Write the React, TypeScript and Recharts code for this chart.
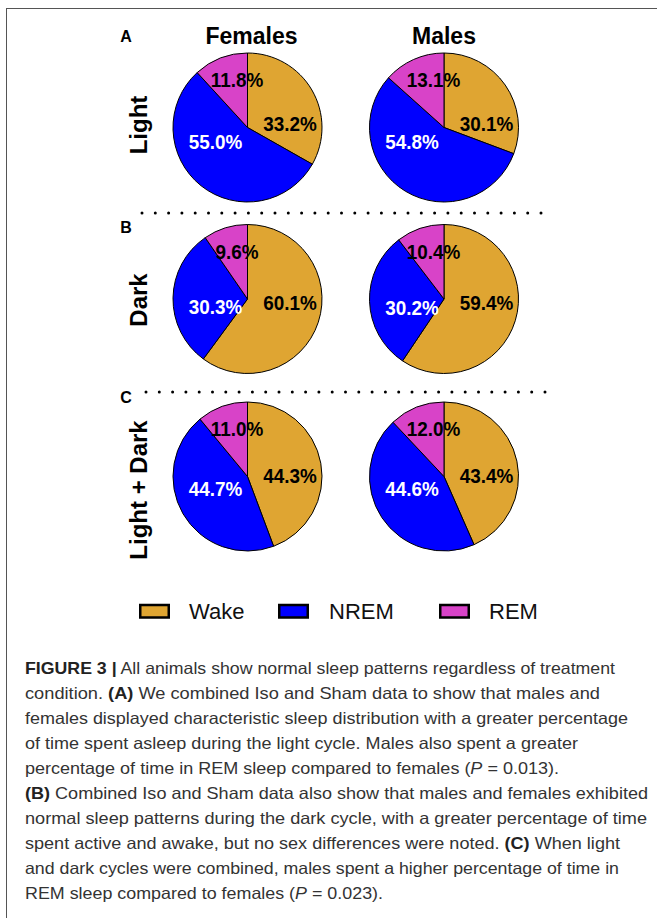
import React from "react"
import { PieChart, Pie, Cell } from "recharts"

// sleep stage shares (%), in the order Wake, NREM, REM
const stages = ["Wake", "NREM", "REM"]
const sexes = ["Females", "Males"]
const periods = ["Light", "Dark", "Light + Dark"]
const panelLetters = ["A", "B", "C"]

const femalesLight = [33.2, 55.0, 11.8]
const malesLight = [30.1, 54.8, 13.1]
const femalesDark = [60.1, 30.3, 9.6]
const malesDark = [59.4, 30.2, 10.4]
const femalesLightDark = [44.3, 44.7, 11.0]
const malesLightDark = [43.4, 44.6, 12.0]

const rows = [
  [femalesLight, malesLight],
  [femalesDark, malesDark],
  [femalesLightDark, malesLightDark],
]

const stageColors = ["#DFA532", "#0000FF", "#D843C8"]

const captionLines: { parts: [string, "b" | "i" | ""][]; width: number }[] = [
  { parts: [["FIGURE 3 |", "b"], [" All animals show normal sleep patterns regardless of treatment", ""]], width: 590 },
  { parts: [["condition. ", ""], ["(A)", "b"], [" We combined Iso and Sham data to show that males and", ""]], width: 575 },
  { parts: [["females displayed characteristic sleep distribution with a greater percentage", ""]], width: 603 },
  { parts: [["of time spent asleep during the light cycle. Males also spent a greater", ""]], width: 553 },
  { parts: [["percentage of time in REM sleep compared to females (", ""], ["P", "i"], [" = 0.013).", ""]], width: 534 },
  { parts: [["(B)", "b"], [" Combined Iso and Sham data also show that males and females exhibited", ""]], width: 623 },
  { parts: [["normal sleep patterns during the dark cycle, with a greater percentage of time", ""]], width: 622 },
  { parts: [["spent active and awake, but no sex differences were noted. ", ""], ["(C)", "b"], [" When light", ""]], width: 595 },
  { parts: [["and dark cycles were combined, males spent a higher percentage of time in", ""]], width: 594 },
  { parts: [["REM sleep compared to females (", ""], ["P", "i"], [" = 0.023).", ""]], width: 358 },
]

const FONT = "'Liberation Sans', Arial, Helvetica, sans-serif"
const PIE_R = 74.5
const colX = [247.5, 444]
const rowY = [127.5, 299, 476.5]
const rowLabelY = [125, 300, 490]
const letterY = [36, 227, 397]
const dottedY = [213, 392]

// percentage labels sit inside each slice, slightly condensed
const renderPctLabel = (props: any) => {
  const { cx, cy, midAngle, outerRadius, index, value } = props
  const dirY = -Math.sin((midAngle * Math.PI) / 180)
  let x: number
  let y: number
  if (index === 0) {
    x = cx + 0.57 * outerRadius
    y = cy + 0.12 * outerRadius * dirY + 1
  } else if (index === 1) {
    x = cx - 0.43 * outerRadius
    y = cy + 8 + 0.1 * outerRadius * dirY
  } else {
    x = cx - 0.14 * outerRadius
    y = cy - 0.64 * outerRadius
  }
  return (
    <text
      transform={`translate(${x},${y}) scale(0.9,1)`}
      textAnchor="middle"
      dominantBaseline="central"
      fill={index === 1 ? "#fff" : "#000"}
      fontFamily={FONT}
      fontWeight="bold"
      fontSize={21}
    >
      {`${Number(value).toFixed(1)}%`}
    </text>
  )
}

export default function App() {
  return (
    <div style={{ position: "relative", width: 657, height: 918, background: "#fff", overflow: "hidden" }}>
      <style>{"body{margin:0;}"}</style>
      <div
        style={{
          position: "absolute",
          left: 6,
          top: 8,
          right: -4,
          bottom: -4,
          borderTop: "1.5px solid #555",
          borderLeft: "1.5px solid #555",
        }}
      />
      <div style={{ position: "absolute", left: 0, top: 0 }}>
        <PieChart width={657} height={600} margin={{ top: 0, right: 0, bottom: 0, left: 0 }}>
          {rows.map((pair, r) =>
            pair.map((values, c) => (
              <Pie
                key={`pie-${r}-${c}`}
                data={values.map((v, i) => ({ name: stages[i], value: v }))}
                dataKey="value"
                cx={colX[c]}
                cy={rowY[r]}
                outerRadius={PIE_R}
                startAngle={90}
                endAngle={-270}
                stroke="#000"
                strokeWidth={1}
                label={renderPctLabel}
                labelLine={false}
                isAnimationActive={false}
              >
                {values.map((_, i) => (
                  <Cell key={`cell-${i}`} fill={stageColors[i]} />
                ))}
              </Pie>
            ))
          )}
        </PieChart>
      </div>
      <svg width={657} height={918} style={{ position: "absolute", left: 0, top: 0, pointerEvents: "none" }}>
        {sexes.map((s, c) => (
          <text key={s} x={colX[c] + (c === 0 ? 4 : 0)} y={36} textAnchor="middle" dominantBaseline="central"
            fontFamily={FONT} fontWeight="bold" fontSize={23} fill="#000">
            {s}
          </text>
        ))}
        {panelLetters.map((l, r) => (
          <text key={l} x={126} y={letterY[r]} textAnchor="middle" dominantBaseline="central"
            fontFamily={FONT} fontWeight="bold" fontSize={16} fill="#000">
            {l}
          </text>
        ))}
        {periods.map((p, r) => (
          <text key={p} transform={`translate(138,${rowLabelY[r]}) rotate(-90)`} textAnchor="middle"
            dominantBaseline="central" fontFamily={FONT} fontWeight="bold" fontSize={24} fill="#000">
            {p}
          </text>
        ))}
        {dottedY.map((y, i) => (
          <line key={y} x1={142 + i * 4} x2={548} y1={y} y2={y} stroke="#000" strokeWidth={3}
            strokeDasharray="0 13.3" strokeLinecap="round" />
        ))}
        {/* legend */}
        {stages.map((s, i) => {
          const bx = [139, 278, 439][i]
          const tx = [189, 329, 489][i]
          return (
            <g key={s}>
              <rect x={bx + 1.25} y={605} width={28.5} height={12.5} fill={stageColors[i]} stroke="#000" strokeWidth={2.5} />
              <text x={tx} y={611.5} dominantBaseline="central" fontFamily={FONT} fontSize={22} fill="#111">
                {s}
              </text>
            </g>
          )
        })}
        {/* caption */}
        {captionLines.map((line, i) => (
          <text key={i} x={25} y={668 + i * 25} dominantBaseline="central" fontFamily={FONT} fontSize={16.5}
            fill="#333" textLength={line.width} lengthAdjust="spacingAndGlyphs">
            {line.parts.map(([t, st], k) => (
              <tspan key={k} fontWeight={st === "b" ? "bold" : "normal"} fontStyle={st === "i" ? "italic" : "normal"}
                fill={st === "b" ? "#222" : "#333"}>
                {t}
              </tspan>
            ))}
          </text>
        ))}
      </svg>
    </div>
  )
}
